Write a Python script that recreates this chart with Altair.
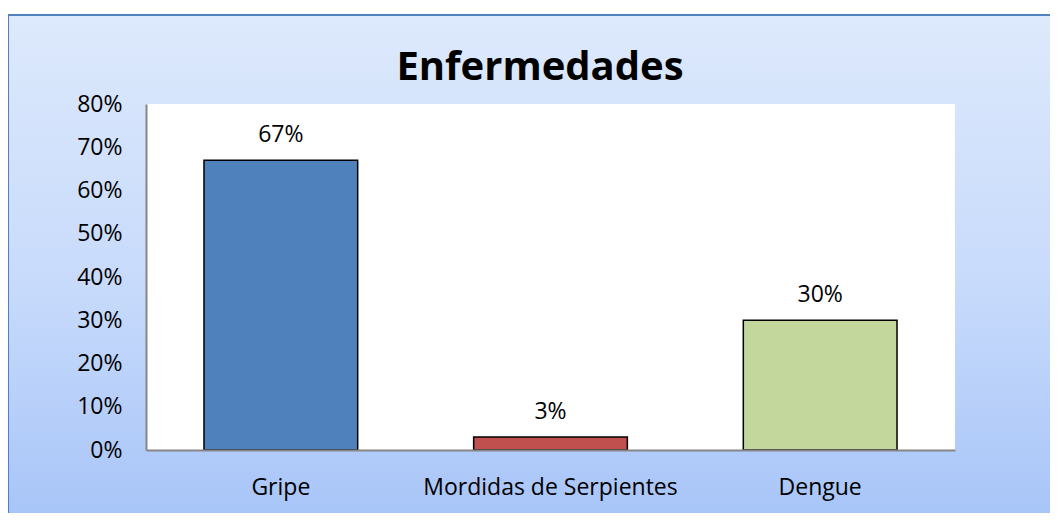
import altair as alt
import pandas as pd

categories = ["Gripe", "Mordidas de Serpientes", "Dengue"]
values = [0.67, 0.03, 0.30]
colors = ["#4f81bd", "#c0504d", "#c3d69b"]
y_ticks = [0, 0.1, 0.2, 0.3, 0.4, 0.5, 0.6, 0.7, 0.8]
title_text = "Enfermedades"

df = pd.DataFrame({"cat": categories, "val": values, "col": colors})

W, H = 809, 346
FONT = "Open Sans"
FS = 23

bg = alt.Chart(pd.DataFrame({"a": [0]})).mark_rect(
    color=alt.Gradient(
        gradient="linear", x1=0, y1=0, x2=0, y2=1,
        stops=[alt.GradientStop(offset=0, color="#dde9fc"),
               alt.GradientStop(offset=0.5, color="#c8dbfb"),
               alt.GradientStop(offset=1, color="#a5c3f8")]),
    stroke="#4f81bd", strokeWidth=2,
).encode(x=alt.value(-138), x2=alt.value(W + 130), y=alt.value(-89), y2=alt.value(H + 90))

plotbg = alt.Chart(pd.DataFrame({"a": [0]})).mark_rect(color="white").encode(
    x=alt.value(0), x2=alt.value(W), y=alt.value(0), y2=alt.value(H))

title = alt.Chart(pd.DataFrame({"t": [title_text]})).mark_text(
    font=FONT, fontSize=40, fontWeight="bold", color="black",
    align="center", baseline="alphabetic").encode(
    x=alt.value(394), y=alt.value(-24), text="t:N")

xenc = alt.X("cat:N", sort=categories,
             scale=alt.Scale(paddingInner=0.43, paddingOuter=0.215),
             axis=alt.Axis(title=None, labelAngle=0, labelFont=FONT, labelFontSize=FS,
                           labelColor="black", labelPadding=26, labelLimit=0, ticks=False,
                           domainColor="#868686", domainWidth=2, zindex=1))
yenc = alt.Y("val:Q", scale=alt.Scale(domain=[0, 0.8], nice=False),
             axis=alt.Axis(title=None, values=y_ticks, format=".0%", grid=False, ticks=False,
                           labelFont=FONT, labelFontSize=FS, labelColor="black",
                           labelPadding=24, domainColor="#868686", domainWidth=2, zindex=1))

bars = alt.Chart(df).mark_bar(stroke="black", strokeWidth=1.5).encode(
    x=xenc, y=yenc, color=alt.Color("col:N", scale=None))

labels = alt.Chart(df).mark_text(font=FONT, fontSize=FS, color="black",
                                 baseline="middle", dy=-25).encode(
    x=alt.X("cat:N", sort=categories), y="val:Q", text=alt.Text("val:Q", format=".0%"))

chart = alt.layer(bg, plotbg, bars, labels, title).properties(
    width=W, height=H,
    autosize=alt.AutoSizeParams(type="none"),
    padding={"left": 138, "top": 96, "right": 95, "bottom": 63},
).configure_view(stroke=None).configure(background="white")

chart.save("out.html", embed_options={"renderer": "svg", "actions": False})
